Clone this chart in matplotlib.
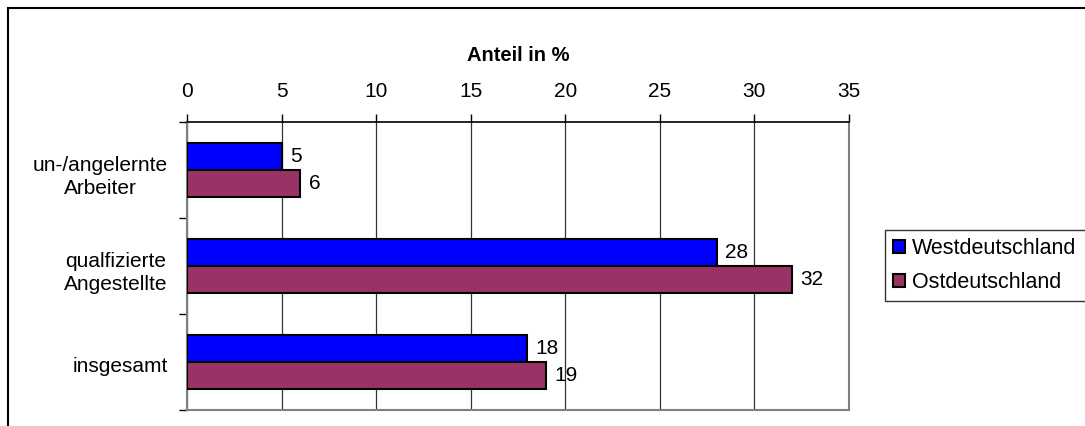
import matplotlib
matplotlib.use("Agg")
import matplotlib.pyplot as plt
from matplotlib.patches import Rectangle
import numpy as np

plt.rcParams['font.family'] = ['Liberation Sans', 'DejaVu Sans']

categories = ["un-/angelernte\nArbeiter", "qualfizierte\nAngestellte", "insgesamt"]
series_names = ["Westdeutschland", "Ostdeutschland"]
west = [5, 28, 18]
ost = [6, 32, 19]
xticks = [0, 5, 10, 15, 20, 25, 30, 35]
colors = ["#0000FF", "#993366"]

FS = 15
W, H = 1085, 426
fig = plt.figure(figsize=(W / 100, H / 100), dpi=100)
ax = fig.add_axes([187 / W, 1 - 410 / H, (849 - 187) / W, (410 - 122) / H])

n = len(categories)
y = np.arange(n)
bh = 0.286
for vals, col, off, name in [(west, colors[0], -bh / 2, series_names[0]),
                             (ost, colors[1], bh / 2, series_names[1])]:
    bars = ax.barh(y + off, vals, height=bh, color=col, edgecolor="black",
                   linewidth=1.5, label=name, zorder=3)
    for b, v in zip(bars, vals):
        ax.annotate(str(v), (b.get_width(), b.get_y() + b.get_height() / 2),
                    xytext=(6, 0), textcoords="offset points",
                    va="center", ha="left", fontsize=FS)

ax.set_xlim(0, 35)
ax.set_ylim(n - 0.5, -0.5)
ax.set_xticks(xticks)
ax.xaxis.tick_top()
ax.tick_params(axis="x", direction="out", length=6, width=1, pad=9, labelsize=FS)
ax.set_xlabel("Anteil in %", fontsize=FS - 0.5, fontweight="bold", labelpad=15)
ax.xaxis.set_label_position("top")

ax.set_yticks(y + 0.03)
ax.set_yticklabels(categories, fontsize=FS, ha="right", multialignment="center",
                   linespacing=1.3)
ax.tick_params(axis="y", length=0, pad=14)
ax.set_yticks(np.arange(n + 1) - 0.5, minor=True)
ax.tick_params(axis="y", which="minor", length=6, width=1, direction="out")

ax.grid(axis="x", color="#333333", linewidth=0.9, zorder=0)
for side in ["left", "right", "bottom"]:
    ax.spines[side].set_color("#808080")
    ax.spines[side].set_linewidth(1.5)
ax.spines["top"].set_color("black")
ax.spines["top"].set_linewidth(1.2)

leg = ax.legend(loc="upper left",
                bbox_to_anchor=(885 / W, 1 - 301 / H, 215 / W, 71 / H),
                bbox_transform=fig.transFigure, mode="expand",
                fontsize=15.5, frameon=True,
                fancybox=False, edgecolor="black", handlelength=0.55,
                handleheight=0.55, handletextpad=0.35, borderpad=0.37,
                labelspacing=0.62, borderaxespad=0)
leg.get_frame().set_linewidth(1.0)

fig.patches.append(Rectangle((8 / W, -0.1), 1.2, 1 - 8 / H + 0.1,
                             transform=fig.transFigure, fill=False,
                             edgecolor="black", linewidth=1.5))

fig.savefig("out.png", dpi=100)
